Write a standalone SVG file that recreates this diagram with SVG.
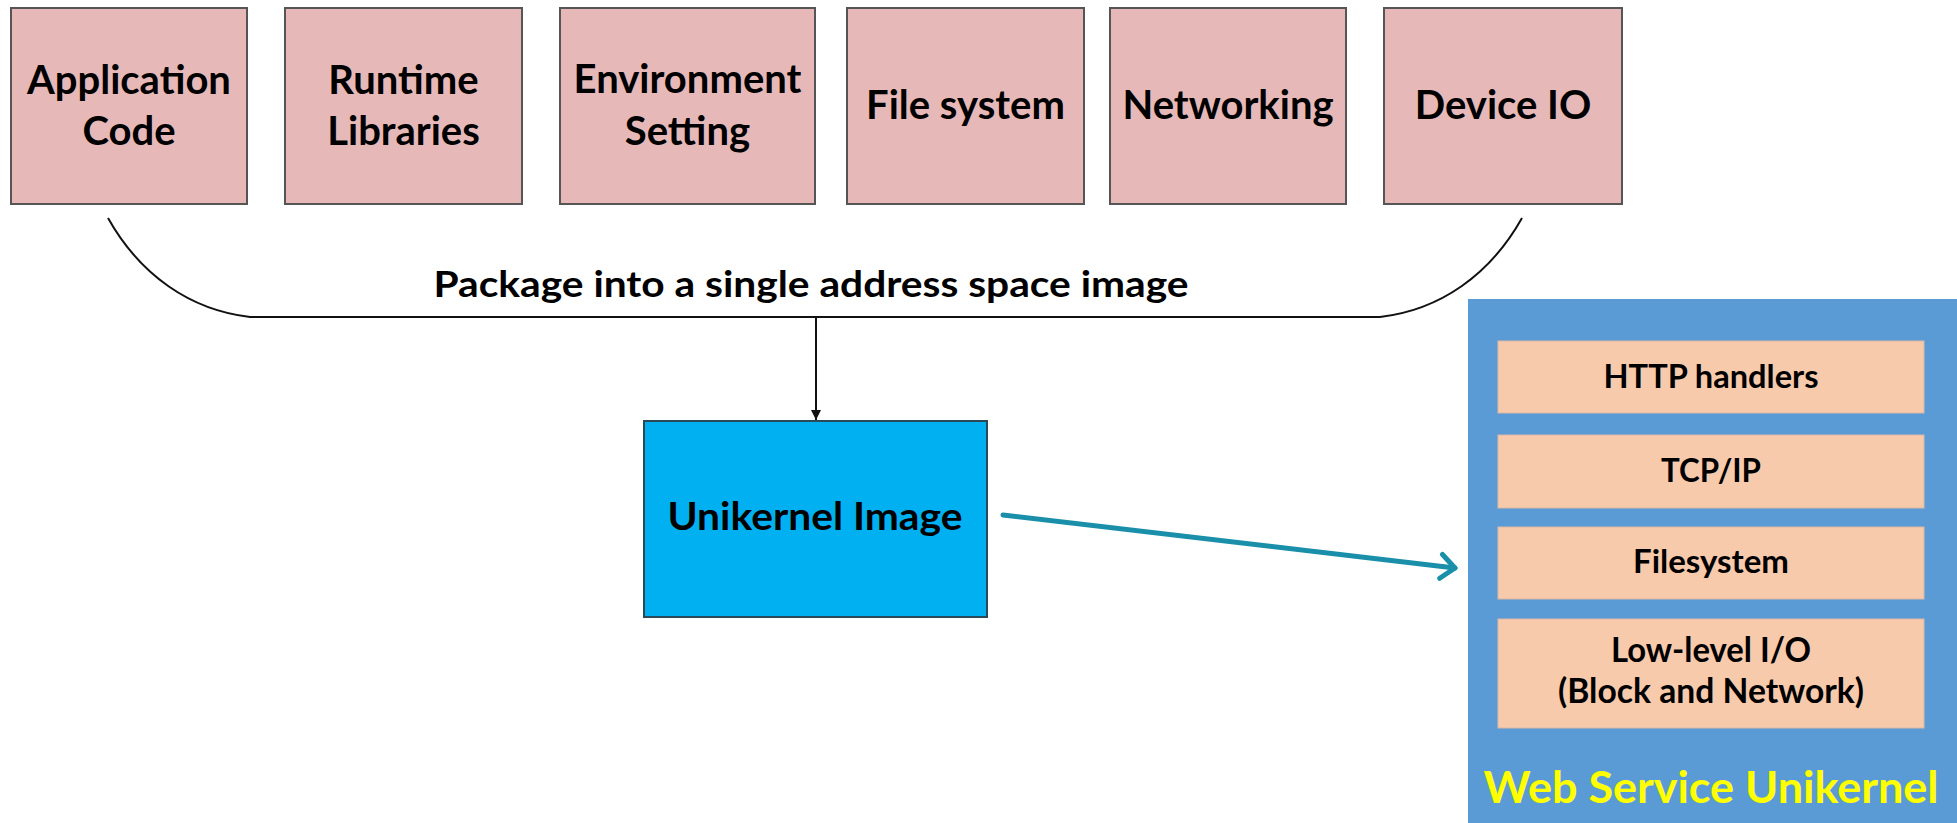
<svg xmlns="http://www.w3.org/2000/svg" width="1957" height="823" viewBox="0 0 1957 823">
<defs>
<style>
.box{fill:#E6B9B8;stroke:#555;stroke-width:2}
.lbl{font-family:Lato,"Open Sans",sans-serif;font-weight:bold;fill:#000;text-anchor:middle}
.big{font-size:40px}
.mid{font-size:32px}
.layer{fill:#F7CAAC;stroke:#D9B8A3;stroke-width:1}
.conn{fill:none;stroke:#111;stroke-width:2}
</style>
<marker id="blkArrow" markerWidth="12" markerHeight="12" refX="10" refY="5" orient="auto" markerUnits="userSpaceOnUse">
<path d="M0,0 L10,5 L0,10 Z" fill="#111"/>
</marker>
<marker id="tealArrow" markerWidth="30" markerHeight="30" refX="20" refY="15" orient="auto" markerUnits="userSpaceOnUse">
<path d="M6,3 L20,15 L6,27" fill="none" stroke="#1A8FAA" stroke-width="5" stroke-linecap="round" stroke-linejoin="round"/>
</marker>
</defs>
<rect width="1957" height="823" fill="#fff"/>

<g id="app-code"><rect class="box" x="11" y="8" width="236" height="196"/><text class="lbl big" x="129" y="94">Application</text><text class="lbl big" x="129" y="145">Code</text></g>
<g id="runtime-libs"><rect class="box" x="285" y="8" width="237" height="196"/><text class="lbl big" x="403.5" y="94">Runtime</text><text class="lbl big" x="403.5" y="145">Libraries</text></g>
<g id="env-setting"><rect class="box" x="560" y="8" width="255" height="196"/><text class="lbl big" x="687.5" y="93">Environment</text><text class="lbl big" x="687.5" y="145">Setting</text></g>
<g id="file-system"><rect class="box" x="847" y="8" width="237" height="196"/><text class="lbl big" x="965.5" y="119">File system</text></g>
<g id="networking"><rect class="box" x="1110" y="8" width="236" height="196"/><text class="lbl big" x="1228" y="119">Networking</text></g>
<g id="device-io"><rect class="box" x="1384" y="8" width="238" height="196"/><text class="lbl big" x="1503" y="119">Device IO</text></g>

<g id="connectors">
<path class="conn" d="M108,218 C140,275 190,310 250,317 L1380,317 C1440,310 1490,275 1522,218"/>
<text class="lbl" x="811" y="297" font-size="37" textLength="755" lengthAdjust="spacingAndGlyphs">Package into a single address space image</text>
<line class="conn" x1="816" y1="317" x2="816" y2="420" marker-end="url(#blkArrow)"/>
<line x1="1003" y1="515" x2="1455" y2="568" stroke="#1A8FAA" stroke-width="5" stroke-linecap="round" marker-end="url(#tealArrow)"/>
</g>

<g id="unikernel-image"><rect x="644" y="421" width="343" height="196" fill="#00B0F0" stroke="#2A4A5A" stroke-width="2"/><text class="lbl" x="815" y="530" font-size="39" textLength="295" lengthAdjust="spacingAndGlyphs">Unikernel Image</text></g>

<g id="web-service-unikernel">
<rect x="1468" y="299" width="489" height="524" fill="#5B9BD5"/>
<g id="http-handlers"><rect class="layer" x="1498" y="341" width="426" height="72"/><text class="lbl mid" x="1711" y="388" textLength="215" lengthAdjust="spacingAndGlyphs">HTTP handlers</text></g>
<g id="tcp-ip"><rect class="layer" x="1498" y="435" width="426" height="73"/><text class="lbl mid" x="1711" y="482" textLength="100" lengthAdjust="spacingAndGlyphs">TCP/IP</text></g>
<g id="filesystem"><rect class="layer" x="1498" y="527" width="426" height="72"/><text class="lbl mid" x="1711" y="573" textLength="156" lengthAdjust="spacingAndGlyphs">Filesystem</text></g>
<g id="low-level-io"><rect class="layer" x="1498" y="619" width="426" height="109"/><text class="lbl" x="1711" y="662" font-size="34" textLength="200" lengthAdjust="spacingAndGlyphs">Low-level I/O</text><text class="lbl" x="1711" y="703" font-size="34" textLength="306" lengthAdjust="spacingAndGlyphs">(Block and Network)</text></g>
<text class="lbl" x="1711" y="803" font-size="44" textLength="455" lengthAdjust="spacingAndGlyphs" style="fill:#FFFF00">Web Service Unikernel</text>
</g>
</svg>
